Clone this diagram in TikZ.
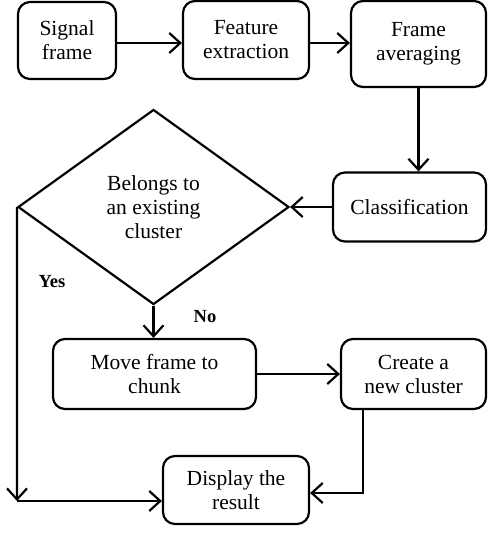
\documentclass[tikz,border=0pt]{standalone}
\usepackage{fontspec}
\setmainfont{Liberation Serif}
\usetikzlibrary{shapes.geometric,arrows.meta,calc}
\begin{document}
\begin{tikzpicture}[x=1pt,y=-1pt,
  every node/.style={font=\fontsize{21.5}{24}\selectfont},
  box/.style={draw,line width=2.2pt,rounded corners=12pt,align=center,inner sep=2pt},
  conn/.style={line width=2.2pt,-{Straight Barb[length=11pt,width=20pt,line width=2.2pt]}},
  lbl/.style={font=\fontsize{18.5}{21}\selectfont\bfseries}]
\useasboundingbox (0,0) rectangle (488,533);
\node[box,minimum width=98pt,minimum height=77pt] (signal) at (67,40.5) {Signal\\frame};
\node[box,minimum width=126pt,minimum height=78pt] (feature) at (246,40) {Feature\\extraction};
\node[box,minimum width=135pt,minimum height=86pt] (avg) at (418.5,44) {Frame\\averaging};
\node[box,minimum width=153pt,minimum height=69pt] (class) at (409.5,207) {Classification};
\node[draw,diamond,line width=2.2pt,inner sep=0pt,minimum width=271pt,minimum height=195pt,align=center] (dia) at (153.5,207) {Belongs to\\an existing\\cluster};
\node[box,minimum width=203pt,minimum height=70pt] (move) at (154.5,374) {Move frame to\\chunk};
\node[box,minimum width=145pt,minimum height=70pt] (create) at (413.5,374) {Create a\\new cluster};
\node[box,minimum width=146pt,minimum height=68pt] (display) at (236,490) {Display the\\result};
\node[lbl] (yes) at (52,282) {Yes};
\node[lbl] (no) at (205,317) {No};
\coordinate (corner) at (17,501);
\coordinate (cdrop) at (363,493);
\coordinate (fa) at (310,43);
\draw[conn] (signal.east |- fa) -- (fa -| feature.west);
\draw[conn] (fa) -- (fa -| avg.west);
\draw[conn] (avg.south) -- (avg.south |- class.north);
\draw[conn] (class.west) -- (dia.east);
\draw[conn] (dia.south) -- (dia.south |- move.north);
\draw[conn] (move.east) -- (create.west);
\draw[conn] (cdrop |- create.south) -- (cdrop) -- (cdrop -| display.east);
\draw[conn] (dia.west) -- (corner);
\draw[conn] (corner) -- (corner -| display.west);
\end{tikzpicture}
\end{document}
